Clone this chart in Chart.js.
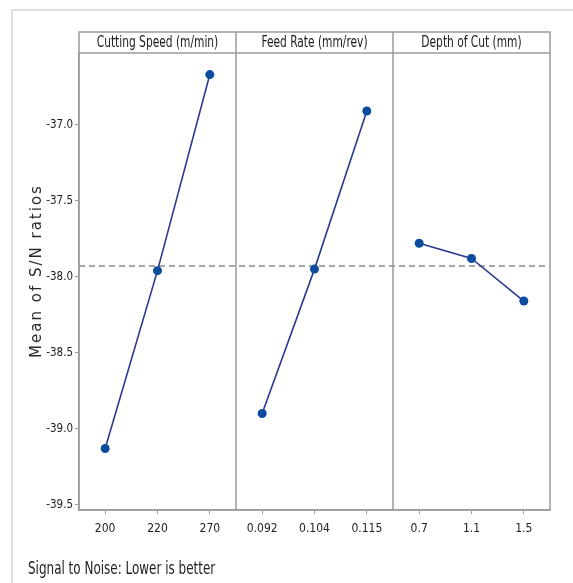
<!DOCTYPE html>
<html>
<head>
<meta charset="utf-8">
<script src="https://cdn.jsdelivr.net/npm/chart.js@4"></script>
<style>
  html, body { margin: 0; padding: 0; background: #fff; }
</style>
</head>
<body>
<canvas id="myChart" width="573" height="583"></canvas>
<script>
// main effects for S/N ratios
const factors = ['Cutting Speed (m/min)', 'Feed Rate (mm/rev)', 'Depth of Cut (mm)'];
const cuttingSpeedLevels = ['200', '220', '270'];
const cuttingSpeedSN = [-39.13, -37.96, -36.67];
const feedRateLevels = ['0.092', '0.104', '0.115'];
const feedRateSN = [-38.90, -37.95, -36.91];
const depthLevels = ['0.7', '1.1', '1.5'];
const depthSN = [-37.78, -37.88, -38.16];
const grandMean = -37.93;
const yTicks = [-37.0, -37.5, -38.0, -38.5, -39.0, -39.5];
const footerText = 'Signal to Noise: Lower is better';
const yTitle = 'Mean of S/N ratios';

const narrowFont = '"Liberation Sans Narrow", "DejaVu Sans Condensed", sans-serif';
const lineColor = '#2b3a8f';
const dotColor = '#0b4c9e';

const allLevels = cuttingSpeedLevels.concat(feedRateLevels, depthLevels);
const groupSizes = [cuttingSpeedLevels.length, feedRateLevels.length, depthLevels.length];

function makeSet(levels, values) {
  return {
    data: levels.map((l, i) => ({ x: l, y: values[i] })),
    borderColor: lineColor,
    borderWidth: 1.6,
    backgroundColor: dotColor,
    pointBackgroundColor: dotColor,
    pointBorderColor: dotColor,
    pointRadius: 4.5,
    pointBorderWidth: 0,
    tension: 0,
    fill: false
  };
}

// squeezed text, the original fonts are narrower than what we have
function narrowText(c, txt, x, y, sx) {
  c.save();
  c.translate(x, y);
  c.scale(sx, 1);
  c.fillText(txt, 0, 0);
  c.restore();
}

const panelFrame = {
  id: 'panelFrame',
  beforeDraw(chart) {
    const c = chart.ctx;
    c.save();
    c.fillStyle = '#fff';
    c.fillRect(0, 0, chart.width, chart.height);
    c.strokeStyle = '#dedede';
    c.lineWidth = 2;
    c.beginPath();
    c.moveTo(12, chart.height);
    c.lineTo(12, 10);
    c.lineTo(chart.width, 10);
    c.stroke();
    c.restore();
  },
  beforeDatasetsDraw(chart) {
    const { ctx: c, chartArea: a, scales: { y } } = chart;
    const yy = y.getPixelForValue(grandMean);
    c.save();
    c.strokeStyle = '#8a8a8a';
    c.lineWidth = 1.5;
    c.setLineDash([6, 4]);
    c.beginPath();
    c.moveTo(a.left, yy);
    c.lineTo(a.right, yy);
    c.stroke();
    c.restore();
  },
  afterDraw(chart) {
    const { ctx: c, chartArea: a, scales: { x } } = chart;
    const headerTop = a.top - 21;
    let edges = [a.left];
    let k = 0;
    for (let i = 0; i < groupSizes.length - 1; i++) {
      k += groupSizes[i];
      edges.push((x.getPixelForValue(k - 1) + x.getPixelForValue(k)) / 2);
    }
    edges.push(a.right);

    c.save();
    c.strokeStyle = '#9a9a9a';
    c.lineWidth = 1.5;
    c.strokeRect(a.left, headerTop, a.right - a.left, a.bottom - headerTop);
    c.beginPath();
    c.moveTo(a.left, a.top);
    c.lineTo(a.right, a.top);
    for (let i = 1; i < edges.length - 1; i++) {
      c.moveTo(edges[i], headerTop);
      c.lineTo(edges[i], a.bottom);
    }
    c.stroke();

    c.fillStyle = '#1a1a1a';
    c.font = '16px ' + narrowFont;
    c.textAlign = 'center';
    c.textBaseline = 'middle';
    factors.forEach((f, i) => narrowText(c, f, (edges[i] + edges[i + 1]) / 2, headerTop + 11, 0.74));

    // footer
    c.textAlign = 'left';
    c.font = '18px ' + narrowFont;
    c.fillStyle = '#222';
    narrowText(c, footerText, 28, 569, 0.74);

    // y title
    c.save();
    c.translate(37, (headerTop + a.bottom) / 2);
    c.rotate(-Math.PI / 2);
    c.font = '15px "DejaVu Sans", sans-serif';
    c.letterSpacing = '2px';
    c.fillStyle = '#2a2a2a';
    c.textAlign = 'center';
    c.fillText(yTitle, 0, 0);
    c.restore();
    c.restore();
  }
};

const ctx = document.getElementById('myChart');

new Chart(ctx, {
  type: 'line',
  data: {
    labels: allLevels,
    datasets: [
      makeSet(cuttingSpeedLevels, cuttingSpeedSN),
      makeSet(feedRateLevels, feedRateSN),
      makeSet(depthLevels, depthSN)
    ]
  },
  options: {
    responsive: false,
    animation: false,
    events: [],
    layout: { padding: { left: 0, right: 23, top: 53, bottom: 0 } },
    scales: {
      x: {
        type: 'category',
        offset: true,
        afterFit: (s) => { s.height = 73; },
        grid: {
          display: true,
          drawOnChartArea: false,
          drawTicks: true,
          tickLength: 4,
          offset: false,
          color: '#9a9a9a'
        },
        border: { display: true, color: '#9a9a9a', width: 1.5 },
        ticks: {
          color: '#222',
          padding: 8,
          maxRotation: 0,
          autoSkip: false,
          font: { family: narrowFont, size: 12 }
        }
      },
      y: {
        min: -39.535,
        max: -36.528,
        afterFit: (s) => { s.width = 79; },
        afterBuildTicks: (s) => { s.ticks = yTicks.map(v => ({ value: v })); },
        grid: {
          display: true,
          drawOnChartArea: false,
          drawTicks: true,
          tickLength: 4,
          color: '#9a9a9a'
        },
        border: { display: true, color: '#9a9a9a', width: 1.5 },
        ticks: {
          color: '#222',
          padding: 2,
          font: { family: narrowFont, size: 11.5 },
          callback: (v) => Number(v).toFixed(1)
        }
      }
    },
    plugins: {
      legend: { display: false },
      tooltip: { enabled: false }
    }
  },
  plugins: [panelFrame]
});
</script>
</body>
</html>
